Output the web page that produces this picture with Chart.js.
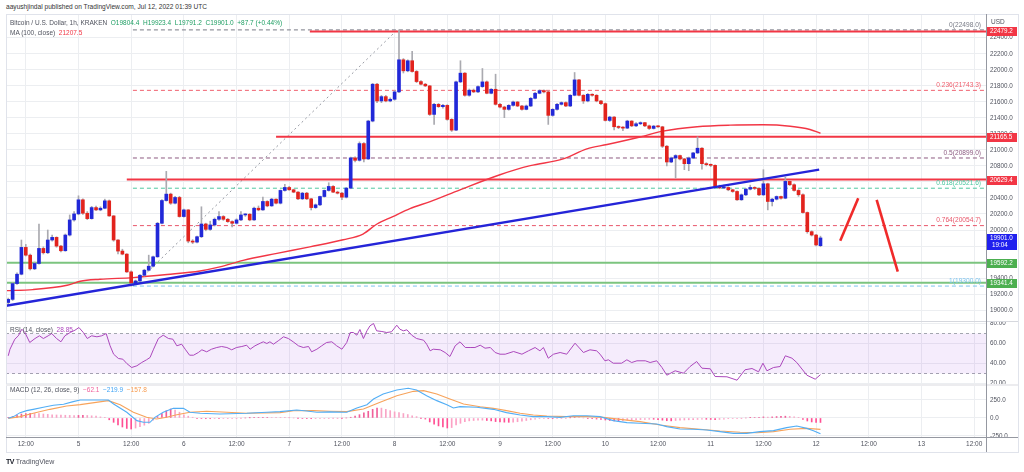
<!DOCTYPE html>
<html lang="en">
<head>
    <meta charset="UTF-8">
    <title>Bitcoin / U.S. Dollar, 1h, KRAKEN</title>
    <script src="https://cdn.jsdelivr.net/npm/chart.js"></script>
    <style>
        * { margin: 0; padding: 0; box-sizing: border-box; }

        body {
            width: 1024px;
            height: 472px;
            overflow: hidden;
            position: relative;
            background: #fff;
            font-family: 'Liberation Sans', Arial, sans-serif;
            color: #50535e;
        }

        .pane { position: absolute; left: 0; width: 1024px; }
        #mainPane { top: 15px; height: 306px; }
        #rsiPane { top: 322px; height: 62px; }
        #macdPane { top: 386px; height: 66px; }

        .txt {
            position: absolute;
            white-space: nowrap;
            font-size: 6.5px;
            line-height: 8px;
            color: #50535e;
            z-index: 5;
        }

        .rule { position: absolute; z-index: 4; }
    </style>
</head>
<body>
    <div class="txt" style="left:6px; top:3px; font-size:6.6px; color:#333;">aayushjindal published on TradingView.com, Jul 12, 2022 01:39 UTC</div>

    <div class="pane" id="mainPane"><canvas id="mainChart"></canvas></div>
    <div class="pane" id="rsiPane"><canvas id="rsiChart"></canvas></div>
    <div class="pane" id="macdPane"><canvas id="macdChart"></canvas></div>

    <!-- frame and pane separators -->
    <div class="rule" style="left:6px; top:14px; width:1012px; height:1px; background:#e0e3eb;"></div>
    <div class="rule" style="left:6px; top:14px; width:1px; height:438px; background:#e0e3eb;"></div>
    <div class="rule" style="left:1018px; top:14px; width:1px; height:438px; background:#e0e3eb;"></div>
    <div class="rule" style="left:6px; top:452px; width:1013px; height:1px; background:#e0e3eb;"></div>
    <div class="rule" style="left:6px; top:321px; width:1012px; height:1px; background:#d6d8de;"></div>
    <div class="rule" style="left:6px; top:384px; width:1012px; height:2px; background:#ececef;"></div>
    <div class="rule" style="left:6px; top:437px; width:1012px; height:1px; background:#9598a1;"></div>
    <div class="rule" style="left:986px; top:14px; width:1px; height:438px; background:#9598a1;"></div>

    <!-- legends -->
    <div class="txt" style="left:10px; top:19px;">Bitcoin / U.S. Dollar, 1h, KRAKEN&nbsp; <span style="color:#1e9e63">O19804.4&nbsp; H19923.4&nbsp; L19791.2&nbsp; C19901.0&nbsp; +87.7 (+0.44%)</span></div>
    <div class="txt" style="left:10px; top:29px;">MA (100, close)&nbsp; <span style="color:#f23645">21207.5</span></div>
    <div class="txt" style="left:991px; top:18px;">USD</div>
    <div class="txt" style="left:10px; top:326px;">RSI (14, close)&nbsp; <span style="color:#ab47bc">28.85</span></div>
    <div class="txt" style="left:10px; top:386px;">MACD (12, 26, close, 9)&nbsp; <span style="color:#f0609a">−62.1</span>&nbsp; <span style="color:#42a5f5">−219.9</span>&nbsp; <span style="color:#f79b4f">−157.8</span></div>
    <div class="txt" style="left:6px; top:458px; font-size:7px; color:#50535e;"><b style="color:#131722; letter-spacing:-0.5px;">TV</b> TradingView</div>

    <script>
        // Hourly candles, first one is Jul 4 08:00 UTC (hour 8 counted from Jul 4 00:00)
        const firstHour = 8;
        const viewStart = 7.49;
        const viewEnd = 230.7;

        const opens = [
            19095, 19134, 19331, 19448, 19783, 19686, 19515, 19582, 19770, 19716,
            19875, 19908, 19799, 19741, 19937, 20126, 20201, 20377, 20209, 20142,
            20280, 20251, 20272, 20364, 20176, 19875, 19737, 19699, 19477, 19339,
            19364, 19435, 19498, 19548, 19665, 20084, 20368, 20448, 20335, 20406,
            20168, 20251, 19862, 19849, 19916, 20075, 20008, 20063, 20134, 20168,
            20134, 20105, 20084, 20126, 20188, 20197, 20126, 20272, 20251, 20356,
            20301, 20385, 20335, 20494, 20531, 20502, 20473, 20389, 20460, 20389,
            20280, 20314, 20418, 20494, 20544, 20473, 20460, 20410, 20523, 20900,
            20870, 21079, 20887, 21360, 21820, 21611, 21665, 21611, 21632, 21724,
            22125, 21987, 22113, 21979, 21853, 21820, 21799, 21443, 21569, 21540,
            21556, 21381, 21247, 21849, 21958, 21682, 21745, 21724, 21790, 21849,
            21707, 21757, 21569, 21535, 21506, 21556, 21598, 21548, 21506, 21548,
            21644, 21707, 21740, 21724, 21431, 21506, 21569, 21590, 21548, 21682,
            21874, 21682, 21611, 21694, 21682, 21611, 21577, 21368, 21410, 21289,
            21280, 21272, 21360, 21300, 21326, 21340, 21300, 21268, 21297, 21288,
            21046, 20849, 20899, 20929, 20887, 20828, 20899, 20962, 21021, 20828,
            20816, 20807, 20544, 20525, 20531, 20502, 20481, 20377, 20439, 20510,
            20531, 20519, 20439, 20577, 20356, 20385, 20418, 20397, 20607, 20565,
            20494, 20440, 20218, 19979, 19937, 19804.4
        ];
        const highs = [
            19150, 19345, 19465, 19875, 19820, 19700, 19600, 20075, 19790, 20000,
            19937, 19915, 19810, 19950, 20188, 20230, 20427, 20390, 20230, 20295,
            20300, 20290, 20385, 20375, 20180, 19880, 19760, 19705, 19490, 19375,
            19445, 19510, 19686, 19675, 20095, 20380, 20732, 20460, 20420, 20420,
            20260, 20255, 19880, 19925, 20290, 20085, 20110, 20150, 20230, 20180,
            20145, 20115, 20140, 20230, 20205, 20205, 20285, 20300, 20410, 20365,
            20395, 20390, 20500, 20570, 20545, 20510, 20480, 20470, 20470, 20395,
            20325, 20425, 20500, 20590, 20555, 20485, 20470, 20530, 20910, 20915,
            21100, 21090, 21370, 21830, 21830, 21680, 21680, 21650, 21740, 22498,
            22140, 22125, 22230, 21990, 21865, 21830, 21805, 21580, 21580, 21570,
            21565, 21390, 21860, 22113, 21965, 21760, 21760, 21800, 22016, 21860,
            21765, 21945, 21580, 21545, 21565, 21610, 21605, 21555, 21560, 21655,
            21720, 21750, 21750, 21735, 21515, 21580, 21600, 21600, 21690, 21966,
            21880, 21690, 21705, 21700, 21690, 21620, 21585, 21420, 21415, 21300,
            21290, 21370, 21365, 21340, 21350, 21345, 21310, 21305, 21305, 21295,
            21055, 20910, 20940, 20935, 20895, 20910, 20970, 21163, 21030, 20840,
            20825, 20815, 20560, 20560, 20540, 20510, 20490, 20450, 20520, 20560,
            20540, 20525, 20753, 20585, 20395, 20425, 20425, 20660, 20615, 20575,
            20505, 20450, 20225, 19990, 19945, 19923.4
        ];
        const lows = [
            19070, 19120, 19320, 19440, 19675, 19500, 19505, 19575, 19700, 19705,
            19860, 19785, 19725, 19735, 19925, 20110, 20190, 20195, 20130, 20135,
            20240, 20240, 20265, 20170, 19860, 19700, 19690, 19470, 19300, 19320,
            19355, 19425, 19490, 19540, 19660, 20075, 20360, 20320, 20325, 20160,
            20160, 19840, 19830, 19840, 19905, 19990, 19995, 20050, 20120, 20120,
            20095, 20040, 20075, 20115, 20170, 20115, 20120, 20240, 20245, 20290,
            20295, 20325, 20325, 20485, 20495, 20465, 20380, 20380, 20380, 20250,
            20270, 20305, 20410, 20485, 20465, 20450, 20380, 20400, 20515, 20850,
            20860, 20850, 20880, 21350, 21590, 21590, 21600, 21600, 21620, 21715,
            21960, 21975, 21970, 21840, 21810, 21790, 21430, 21318, 21530, 21520,
            21370, 21230, 21240, 21840, 21670, 21670, 21715, 21715, 21780, 21700,
            21700, 21560, 21525, 21402, 21495, 21545, 21540, 21495, 21500, 21540,
            21635, 21700, 21710, 21318, 21420, 21495, 21560, 21540, 21540, 21675,
            21675, 21580, 21600, 21670, 21600, 21565, 21360, 21355, 21250, 21265,
            21240, 21265, 21290, 21290, 21315, 21290, 21255, 21260, 21280, 21030,
            20800, 20840, 20648, 20875, 20753, 20740, 20890, 20955, 20760, 20800,
            20790, 20530, 20515, 20515, 20490, 20470, 20370, 20370, 20430, 20500,
            20505, 20430, 20430, 20251, 20300, 20375, 20385, 20390, 20555, 20485,
            20420, 20210, 19960, 19925, 19800, 19791.2
        ];
        const closes = [
            19134, 19331, 19448, 19783, 19686, 19515, 19582, 19770, 19716, 19875,
            19908, 19799, 19741, 19937, 20126, 20201, 20377, 20209, 20142, 20280,
            20251, 20272, 20364, 20176, 19875, 19737, 19699, 19477, 19339, 19364,
            19435, 19498, 19548, 19665, 20084, 20368, 20448, 20335, 20406, 20168,
            20251, 19862, 19849, 19916, 20075, 20008, 20063, 20134, 20168, 20134,
            20105, 20084, 20126, 20188, 20197, 20126, 20272, 20251, 20356, 20301,
            20385, 20335, 20494, 20531, 20502, 20473, 20389, 20460, 20389, 20280,
            20314, 20418, 20494, 20544, 20473, 20460, 20410, 20523, 20900, 20870,
            21079, 20887, 21360, 21820, 21611, 21665, 21611, 21632, 21724, 22125,
            21987, 22113, 21979, 21853, 21820, 21799, 21443, 21569, 21540, 21556,
            21381, 21247, 21849, 21958, 21682, 21745, 21724, 21790, 21849, 21707,
            21757, 21569, 21535, 21506, 21556, 21598, 21548, 21506, 21548, 21644,
            21707, 21740, 21724, 21431, 21506, 21569, 21590, 21548, 21682, 21874,
            21682, 21611, 21694, 21682, 21611, 21577, 21368, 21410, 21289, 21280,
            21272, 21360, 21300, 21326, 21340, 21300, 21268, 21297, 21288, 21046,
            20849, 20899, 20929, 20887, 20828, 20899, 20962, 21021, 20828, 20816,
            20807, 20544, 20525, 20531, 20502, 20481, 20377, 20439, 20510, 20531,
            20519, 20439, 20577, 20356, 20385, 20418, 20397, 20607, 20565, 20494,
            20440, 20218, 19979, 19937, 19813.3, 19901.0
        ];

        // MA (100, close)
        const maHours = [7.5, 13.6, 21.4, 24.4, 28.9, 36.4, 44.2, 51.7, 56.2, 61.5, 69.2, 76.7, 84.3, 88.8, 92.0, 95.6,
            99.5, 104.1, 110.9, 120.0, 126.9, 134.4, 139.8, 144.4, 151.9, 157.1, 164.9, 172.4, 179.9, 186.1, 190.6, 193];
        const maValues = [19243, 19256, 19310, 19360, 19385, 19406, 19444, 19489, 19539, 19620, 19708, 19790, 19878, 19950, 20075, 20167,
            20267, 20355, 20502, 20690, 20803, 20887, 21013, 21067, 21161, 21234, 21289, 21309, 21314, 21296, 21255, 21207.5];

        // drawings
        const redLevels = [22479.2, 21165.5, 20629.4];
        const redLevelStarts = [76.7, 69.0, 35.0];
        const greenLevels = [19592.2, 19341.4];
        const fibRatios = ['0', '0.236', '0.5', '0.618', '0.764', '1'];
        const fibPrices = [22498.0, 21743.3, 20899.0, 20521.6, 20054.7, 19300.0];
        const fibAnchorHours = [36.4, 96.6];
        const fibAnchorPrices = [19300.0, 22498.0];
        const trendHours = [7.5, 192.7];
        const trendPrices = [19055, 20753];
        const strokeUpHours = [197.5, 201.6];
        const strokeUpPrices = [19866, 20396];
        const strokeDownHours = [205.8, 210.6];
        const strokeDownPrices = [20375, 19479];
        const lastPrice = 19901.0;
        const countdown = '19:04';

        // axis ticks
        const priceTicks = [19000, 19200, 19400, 19600, 19800, 20000, 20200, 20400, 20600, 20800,
            21000, 21200, 21400, 21600, 21800, 22000, 22200, 22400];
        const rsiTicks = [20, 40, 60, 80];
        const macdTicks = [-250, 0, 250];
        const timeTicks = [12, 24, 36, 48, 60, 72, 84, 96, 108, 120, 132, 144, 156, 168, 180, 192, 204, 216, 228];
        const timeLabels = ['12:00', '5', '12:00', '6', '12:00', '7', '12:00', '8', '12:00', '9',
            '12:00', '10', '12:00', '11', '12:00', '12', '12:00', '13', '12:00'];

        // RSI (14, close)
        const rsiHours = [8, 8.4, 9.5, 10.3, 11.1, 11.8, 12.9, 14.1, 15.1, 16.0, 17.1, 17.9, 19.0, 20.0, 20.9, 22.1, 23.2, 24.1,
            25.1, 26.0, 27.0, 28.2, 29.3, 30.3, 31.2, 32.0, 33.1, 34.1, 35.0, 36.1, 37.3, 38.4, 39.5, 40.3, 41.1, 42.2, 43.3,
            44.5, 45.5, 46.4, 47.5, 48.3, 49.3, 50.2, 51.3, 52.1, 53.2, 54.3, 55.5, 56.6, 57.8, 58.9, 60.0, 61.2, 62.3, 63.1,
            64.2, 65.4, 66.1, 66.9, 67.6, 68.4, 69.5, 70.7, 71.8, 72.9, 74.1, 75.2, 76.4, 77.1, 78.3, 79.4, 80.5, 81.7, 82.8,
            84.0, 85.1, 85.9, 86.6, 87.4, 88.1, 88.9, 89.7, 90.4, 91.2, 91.9, 93.1, 94.2, 95.3, 96.5, 97.2, 98.0, 98.8, 99.9,
            101.0, 102.6, 103.3, 104.1, 104.8, 106.4, 107.5, 108.6, 109.8, 110.9, 112.1, 113.2, 114.3,
            115.5, 116.6, 117.8, 118.9, 120.0, 121.2, 123.1, 125.0, 126.5, 128.0, 129.1, 129.9, 131.0, 132.2, 133.7, 135.2,
            137.1, 139.0, 140.5, 142.0, 142.8, 143.9, 144.7, 145.8, 147.7, 148.9, 150.0, 151.2, 153.1, 154.2, 155.7, 156.9,
            158.0, 159.9, 161.8, 163.3, 164.8, 166.0, 167.9, 169.0, 171.7, 174.0, 175.8, 177.4, 178.9, 179.9, 180.8, 182.3,
            183.8, 185.0, 186.5, 187.6, 189.9, 191.8, 193.0];
        const rsiValues = [47.7, 54.3, 64.3, 67.7, 74.3, 71, 61, 65, 67.7, 65, 67.7, 70, 65, 61.7, 67.7, 71, 73.3, 76,
            71, 65, 67.7, 66.7, 67.7, 70, 57.7, 49.3, 45, 44.3, 40, 36, 37.7, 41, 43.7, 46, 54.3, 65, 68.3,
            65, 64.3, 57.7, 59.3, 54.3, 48.3, 48.3, 51, 53.7, 51.7, 54.3, 56, 57, 56, 53.7, 56, 57, 58.3, 54.3,
            57.7, 60.3, 61.7, 60, 61.7, 59.3, 62.7, 66.7, 65, 61.7, 57.7, 56, 57, 51.7, 54.3, 57.7, 61, 61.7, 57.7,
            54.3, 61, 71, 71, 68.3, 74, 65, 72.7, 77.7, 80, 72.7, 72, 71, 71.7, 78.3, 74.3, 72.7, 73.7, 68.3,
            65, 63.3, 59.3, 52.7, 54.3, 53.7, 51, 47, 57.7, 61.7, 56, 56, 56,
            58.3, 55.3, 56, 51, 49.3, 49.3, 52, 49.3, 52.7, 56, 52.7, 56, 45.3, 49.3, 51, 49.3,
            60.3, 51, 53.7, 52.7, 49.3, 42.7, 43.7, 40.3, 40.3, 43.7, 41, 42.7, 42.7, 41, 42.7, 36,
            28.3, 32.7, 30.3, 37, 42, 35.3, 34.7, 27, 26.7, 23.3, 33.7, 35, 31.7, 40.3, 32.7, 36,
            37, 47.7, 45.3, 41, 28.3, 24.3, 28.85];

        // MACD (12, 26, close, 9)
        const macdHours = [8, 9.2, 10.7, 12.2, 13.7, 16, 18.3, 20.6, 22.8, 24.4, 30.8, 32, 35, 37.3, 38.8, 40.3, 41.4, 43.3,
            45.6, 47.9, 49.4, 51.7, 56.2, 62.3, 66.9, 69.9, 73.7, 76, 78.3, 81.3, 85.1, 87.4, 89.7, 91.2, 93.4, 96.5, 99.1,
            101, 103.3, 105.6, 107.9, 109.4, 110.9, 114.7, 118.5, 121.5, 124.6, 127.6, 130.7, 133.7, 136.7, 139.8, 142.8,
            145.8, 148.9, 151.9, 155.7, 158, 161, 164.1, 167.1, 170.1, 173.2, 176.2, 179.2, 182.3, 185.3, 187.6, 189.9,
            191.4, 193];
        const macdValues = [-5, 19, 74, 102, 120, 148, 176, 190, 227, 250, 250, 194, 79, -37, -60, -60, 9, 79,
            134, 134, 79, 65, 56, 65, 79, 88, 111, 97, 79, 85, 79, 139, 185, 264, 333, 389, 412,
            389, 310, 241, 185, 139, 157, 148, 120, 74, 42, 19, 19, 9, 32, 32, 19,
            -37, -65, -74, -83, -120, -153, -157, -167, -190, -213, -213, -190, -176, -134, -111, -144,
            -176, -219.9];
        const signalHours = [8, 10.7, 13.7, 17.5, 21.3, 24.4, 30.8, 33.5, 36.5, 39.5, 41.8, 44.1, 46.4, 49.4, 53.2, 57.8,
            62.3, 69.9, 73, 77.5, 81.3, 85.1, 88.9, 92.7, 96.5, 100.3, 102.6, 105.6, 108.6, 111.7, 115.5, 118.5, 121.5,
            124.6, 127.6, 130.7, 135.2, 139.8, 143.6, 147.4, 151.9, 156.5, 161, 165.6, 170.1, 174.7, 178.5, 182.3, 186.1,
            189.9, 193];
        const signalValues = [-5, 19, 65, 120, 167, 185, 241, 185, 79, 9, -14, 9, 46, 79, 93, 79,
            65, 74, 100, 102, 93, 88, 125, 218, 310, 370, 380, 333, 264, 194, 157, 134, 102,
            65, 42, 28, 19, 19, 9, -19, -51, -97, -134, -157, -181, -199, -204, -190, -157,
            -144, -157.8];
        // histogram, one bar per candle
        const histValues = [
            5, 20, 40, 55, 62, 65, 62, 60, 55, 50,
            45, 42, 40, 38, 36, 35, 36, 37, 35, 30,
            25, 15, 5, -25, -60, -95, -125, -145, -153, -140,
            -120, -100, -74, -30, 20, 60, 100, 125, 110, 80,
            45, 25, 10, -5, -8, -10, -10, -8, -8, -6,
            -5, -4, -3, -2, 0, 2, 4, 6, 8, 8,
            7, 6, 5, 4, 2, 0, -3, -6, -9, -10,
            -9, -8, -6, -4, -3, -2, -2, 0, 10, 25,
            46, 70, 93, 120, 139, 137, 120, 102, 85, 75,
            62, 48, 30, 19, -2, -15, -55, -85, -110, -125,
            -139, -133, -95, -74, -50, -40, -35, -32, -30, -35,
            -40, -50, -55, -58, -60, -58, -52, -45, -35, -25,
            -15, -8, -5, -8, -10, -8, -6, -4, 2, 6,
            4, 0, -4, -10, -15, -20, -28, -35, -40, -40,
            -37, -32, -28, -25, -22, -20, -18, -18, -22, -30,
            -38, -40, -35, -30, -28, -25, -22, -20, -18, -18,
            -20, -24, -20, -15, -10, -8, -6, -3, 0, 4,
            7, 10, 15, 12, 15, 20, 22, 25, 22, 15,
            5, -20, -42, -55, -60, -62.1
        ];

        // ---- styling ----
        const fontFamily = '"Liberation Sans", Arial, sans-serif';
        const gridColor = '#eceef1';
        const axisText = '#50535e';
        const upColor = '#2128d8';
        const downColor = '#e2231d';
        const levelRed = '#f23645';
        const levelGreen = '#7cc47f';
        const tagGreen = '#4caf50';
        const fibColors = ['#787b86', '#f0606e', '#8c5a80', '#4fc7a0', '#e8566a', '#7cc4ee'];

        const hours = closes.map((c, i) => firstHour + i);

        function timeAxis(showLabels) {
            return {
                type: 'linear',
                min: viewStart,
                max: viewEnd,
                offset: false,
                grid: { color: gridColor, drawTicks: false, offset: false },
                border: { display: false },
                afterBuildTicks: scale => { scale.ticks = timeTicks.map(v => ({ value: v })); },
                ticks: {
                    display: showLabels,
                    autoSkip: false,
                    maxRotation: 0,
                    padding: 3,
                    color: axisText,
                    font: { size: 6.5, family: fontFamily },
                    callback: (v, i) => timeLabels[i]
                },
                afterFit: scale => {
                    scale.height = showLabels ? 15 : 0;
                    scale.paddingLeft = 0;
                    scale.paddingRight = 0;
                }
            };
        }

        function valueAxis(min, max, tickValues, digits) {
            return {
                type: 'linear',
                position: 'right',
                min: min,
                max: max,
                beginAtZero: false,
                grid: { color: gridColor, drawTicks: false },
                border: { display: false },
                afterBuildTicks: scale => { scale.ticks = tickValues.map(v => ({ value: v })); },
                ticks: {
                    autoSkip: false,
                    padding: 4,
                    color: axisText,
                    font: { size: 6.3, family: fontFamily },
                    callback: v => v.toFixed(digits)
                },
                afterFit: scale => {
                    scale.width = 32;
                    scale.paddingTop = 0;
                    scale.paddingBottom = 0;
                }
            };
        }

        function baseOptions(xAxis, yAxis) {
            return {
                responsive: true,
                maintainAspectRatio: false,
                animation: false,
                events: [],
                layout: { padding: { left: 6, right: 6, top: 0, bottom: 0 } },
                plugins: { legend: { display: false }, tooltip: { enabled: false } },
                scales: { x: xAxis, y: yAxis }
            };
        }

        function segment(xs, ys, color, width, dash, order) {
            return {
                type: 'line',
                data: xs.map((x, i) => ({ x: x, y: ys[i] })),
                borderColor: color,
                borderWidth: width,
                borderDash: dash || [],
                pointRadius: 0,
                fill: false,
                order: order
            };
        }

        // price axis tags and fibonacci captions
        const priceTags = {
            id: 'priceTags',
            afterDatasetsDraw(chart) {
                const ctx = chart.ctx;
                const y = chart.scales.y;
                const right = chart.chartArea.right - 5;
                ctx.save();
                ctx.font = '6.6px ' + fontFamily;
                ctx.textAlign = 'right';
                ctx.textBaseline = 'middle';
                fibPrices.forEach((p, i) => {
                    ctx.fillStyle = fibColors[i];
                    ctx.fillText(fibRatios[i] + '(' + p.toFixed(1) + ')', right, y.getPixelForValue(p) - 5);
                });
                ctx.restore();
            },
            afterDraw(chart) {
                const ctx = chart.ctx;
                const y = chart.scales.y;
                const left = chart.chartArea.right;
                const w = 31;
                ctx.save();
                ctx.font = '6.3px ' + fontFamily;
                ctx.textBaseline = 'middle';
                ctx.textAlign = 'left';
                const tag = (price, color) => {
                    const py = Math.round(y.getPixelForValue(price));
                    ctx.fillStyle = color;
                    ctx.fillRect(left, py - 4, w, 9);
                    ctx.fillStyle = '#fff';
                    ctx.fillText(price.toFixed(1), left + 4, py + 0.5);
                };
                redLevels.forEach(p => tag(p, levelRed));
                greenLevels.forEach(p => tag(p, tagGreen));

                const py = Math.round(y.getPixelForValue(lastPrice));
                ctx.fillStyle = '#2020ee';
                ctx.fillRect(left, py - 4, w, 16);
                ctx.fillStyle = '#fff';
                ctx.fillText(lastPrice.toFixed(1), left + 4, py + 0.5);
                ctx.fillText(countdown, left + 6, py + 7.5);
                ctx.restore();
            }
        };

        // ---- main price pane ----
        const mainDatasets = [
            segment(strokeUpHours, strokeUpPrices, '#f02a2a', 2.6, null, 0),
            segment(strokeDownHours, strokeDownPrices, '#f02a2a', 2.6, null, 0),
            segment(trendHours, trendPrices, '#2424d8', 2.4, null, 1),
            {
                type: 'bar',
                data: hours.map((h, i) => ({ x: h, y: [opens[i], closes[i]] })),
                backgroundColor: closes.map((c, i) => (c >= opens[i] ? upColor : downColor)),
                barThickness: 3,
                minBarLength: 1,
                grouped: false,
                order: 2
            },
            {
                type: 'bar',
                data: hours.map((h, i) => ({ x: h, y: [lows[i], highs[i]] })),
                backgroundColor: '#aaaab0',
                barThickness: 1,
                grouped: false,
                order: 3
            },
            Object.assign(segment(maHours, maValues, levelRed, 1.4, null, 4), { tension: 0.4, cubicInterpolationMode: 'monotone' })
        ];
        redLevels.forEach((p, i) => mainDatasets.push(segment([redLevelStarts[i], viewEnd], [p, p], levelRed, 2, null, 5)));
        greenLevels.forEach(p => mainDatasets.push(segment([viewStart, viewEnd], [p, p], levelGreen, 2, null, 6)));
        fibPrices.forEach((p, i) => mainDatasets.push(segment([fibAnchorHours[0], viewEnd], [p, p], fibColors[i], 1, [4, 3], 7)));
        mainDatasets.push(segment(fibAnchorHours, fibAnchorPrices, '#9598a1', 1, [2, 3], 8));

        new Chart(document.getElementById('mainChart'), {
            type: 'bar',
            data: { datasets: mainDatasets },
            options: baseOptions(timeAxis(false), valueAxis(18864, 22684, priceTicks, 1)),
            plugins: [priceTags]
        });

        // ---- RSI pane ----
        new Chart(document.getElementById('rsiChart'), {
            type: 'line',
            data: {
                datasets: [
                    segment(rsiHours, rsiValues, '#ab47bc', 1, null, 0),
                    Object.assign(segment([viewStart, viewEnd], [70, 70], '#a3a6af', 1, [3, 3], 1),
                        { fill: '+1', backgroundColor: 'rgba(165, 80, 225, 0.11)' }),
                    segment([viewStart, viewEnd], [30, 30], '#a3a6af', 1, [3, 3], 2)
                ]
            },
            options: baseOptions(timeAxis(false), valueAxis(19.5, 81.5, rsiTicks, 2))
        });

        // ---- MACD pane ----
        const histColors = histValues.map((v, i) => {
            const prev = i > 0 ? histValues[i - 1] : 0;
            if (v >= 0) return v >= prev ? '#f0609a' : '#f8a5c6';
            return v <= prev ? '#ff4f93' : '#fca0c4';
        });

        new Chart(document.getElementById('macdChart'), {
            type: 'bar',
            data: {
                datasets: [
                    segment(macdHours, macdValues, '#52aef5', 1.1, null, 0),
                    segment(signalHours, signalValues, '#f7a35b', 1.1, null, 1),
                    {
                        type: 'bar',
                        data: hours.map((h, i) => ({ x: h, y: histValues[i] })),
                        backgroundColor: histColors,
                        barThickness: 1,
                        grouped: false,
                        order: 2
                    }
                ]
            },
            options: baseOptions(timeAxis(true), valueAxis(-264, 444, macdTicks, 1))
        });
    </script>
</body>
</html>
